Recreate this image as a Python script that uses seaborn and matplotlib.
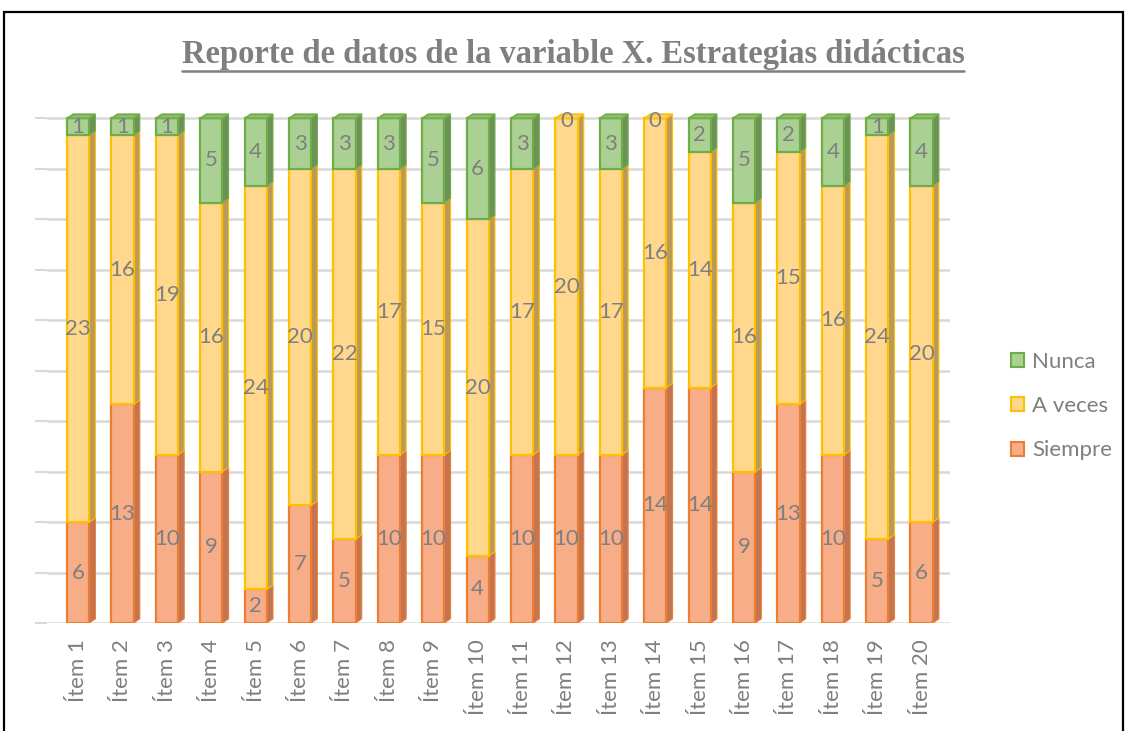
import numpy as np
import pandas as pd
import matplotlib
matplotlib.use("Agg")
import matplotlib.pyplot as plt
from matplotlib.patches import Polygon, Rectangle, Patch
from matplotlib.lines import Line2D
import seaborn as sns

items = [f"Ítem {i}" for i in range(1, 21)]
siempre = [6, 13, 10, 9, 2, 7, 5, 10, 10, 4, 10, 10, 10, 14, 14, 9, 13, 10, 5, 6]
a_veces = [23, 16, 19, 16, 24, 20, 22, 17, 15, 20, 17, 20, 17, 16, 14, 16, 15, 16, 24, 20]
nunca = [1, 1, 1, 5, 4, 3, 3, 3, 5, 6, 3, 0, 3, 0, 2, 5, 2, 4, 1, 4]

series = ["Siempre", "A veces", "Nunca"]
values = {"Siempre": siempre, "A veces": a_veces, "Nunca": nunca}
face = {"Siempre": "#F6AD88", "A veces": "#FFD88E", "Nunca": "#AAD193"}
edge = {"Siempre": "#ED7D31", "A veces": "#FFC000", "Nunca": "#70AD47"}
side = {"Siempre": "#C27552", "A veces": "#B99A5C", "Nunca": "#6C9258"}
cap = {"Siempre": "#E99A72", "A veces": "#F2CC80", "Nunca": "#8DBB70"}

gray = "#7F7F7F"
sns.set_style("white")
plt.rcParams["font.family"] = ["Lato", "DejaVu Sans"]

fig = plt.figure(figsize=(11.26, 7.31), dpi=100)
ax = fig.add_axes([47 / 1126, 108 / 731, 903 / 1126, 513 / 731])

bottom = np.zeros(len(items))
bars = {}
for s in series:
    df = pd.DataFrame({"item": items, "n": values[s]})
    before = len(ax.patches)
    sns.barplot(data=df, x="item", y="n", bottom=bottom, color=face[s],
                edgecolor=edge[s], linewidth=1.6, width=0.5, ax=ax,
                saturation=1, zorder=3)
    bars[s] = ax.patches[before:]
    bottom = bottom + np.array(values[s])

# fake 3D depth: side faces and top caps, taken from the drawn bars
dx, dy = 0.14, 0.25
top_series = {}
for s in series:
    for i, p in enumerate(bars[s]):
        if p.get_height() > 0:
            top_series[i] = s
for s in series:
    for i, p in enumerate(bars[s]):
        h = p.get_height()
        if h <= 0:
            continue
        x0, y0, w = p.get_x(), p.get_y(), p.get_width()
        x1, y1 = x0 + w, y0 + h
        ax.add_patch(Polygon([(x1, y0), (x1 + dx, y0 + dy), (x1 + dx, y1 + dy), (x1, y1)],
                             closed=True, facecolor=side[s], edgecolor=edge[s],
                             linewidth=0.8, zorder=2.5))
        if top_series[i] == s:
            ax.add_patch(Polygon([(x0, y1), (x0 + dx, y1 + dy), (x1 + dx, y1 + dy), (x1, y1)],
                                 closed=True, facecolor=cap[s], edgecolor=edge[s],
                                 linewidth=1.2, zorder=3.5))
        ax.text(x0 + w / 2, y0 + h / 2, str(values[s][i]), ha="center", va="center",
                fontsize=16, color=gray, zorder=5)

# zero labels
base = np.array(siempre) + np.array(a_veces)
for i, v in enumerate(nunca):
    if v == 0:
        ax.text(i, base[i] - 0.15, "0", ha="center", va="center", fontsize=16,
                color=gray, zorder=5)

ax.set_xlim(-0.7, 19.64)
ax.set_ylim(0, 30.5)
ax.set_yticks(np.arange(0, 31, 3))
ax.set_yticklabels([])
ax.grid(axis="y", color="#D9D9D9", linewidth=1.8, zorder=0)
ax.tick_params(axis="y", left=True, length=9, width=1.5, color="#D9D9D9")
ax.tick_params(axis="x", bottom=False, labelrotation=90, labelsize=16,
               labelcolor=gray, pad=8)
ax.set_xlabel("")
ax.set_ylabel("")
for sp in ax.spines.values():
    sp.set_visible(False)

handles = [Patch(facecolor=face[s], edgecolor=edge[s], linewidth=1.5)
           for s in ["Nunca", "A veces", "Siempre"]]
fig.legend(handles, ["Nunca", "A veces", "Siempre"], loc="center left",
           bbox_to_anchor=(991 / 1126, 1 - 406 / 731), frameon=False,
           fontsize=16, labelcolor=gray, handlelength=0.6, handleheight=0.6,
           handletextpad=0.35, labelspacing=1.1)

title = fig.text(573 / 1126, 1 - 54 / 731,
                 "Reporte de datos de la variable X. Estrategias didácticas",
                 ha="center", va="center", fontsize=23.5, fontweight="bold",
                 color=gray, family="Liberation Serif")
fig.canvas.draw()
bb = title.get_window_extent()
yline = (bb.y0 - 1) / fig.bbox.height
fig.add_artist(Line2D([bb.x0 / fig.bbox.width, bb.x1 / fig.bbox.width], [yline, yline],
                      color=gray, linewidth=1.8, transform=fig.transFigure))

fig.add_artist(Rectangle((4 / 1126, -0.02), 1119 / 1126, 1 - 12 / 731 + 0.02,
                         transform=fig.transFigure, fill=False, edgecolor="black",
                         linewidth=1.6))

fig.savefig("out.png", dpi=100)
